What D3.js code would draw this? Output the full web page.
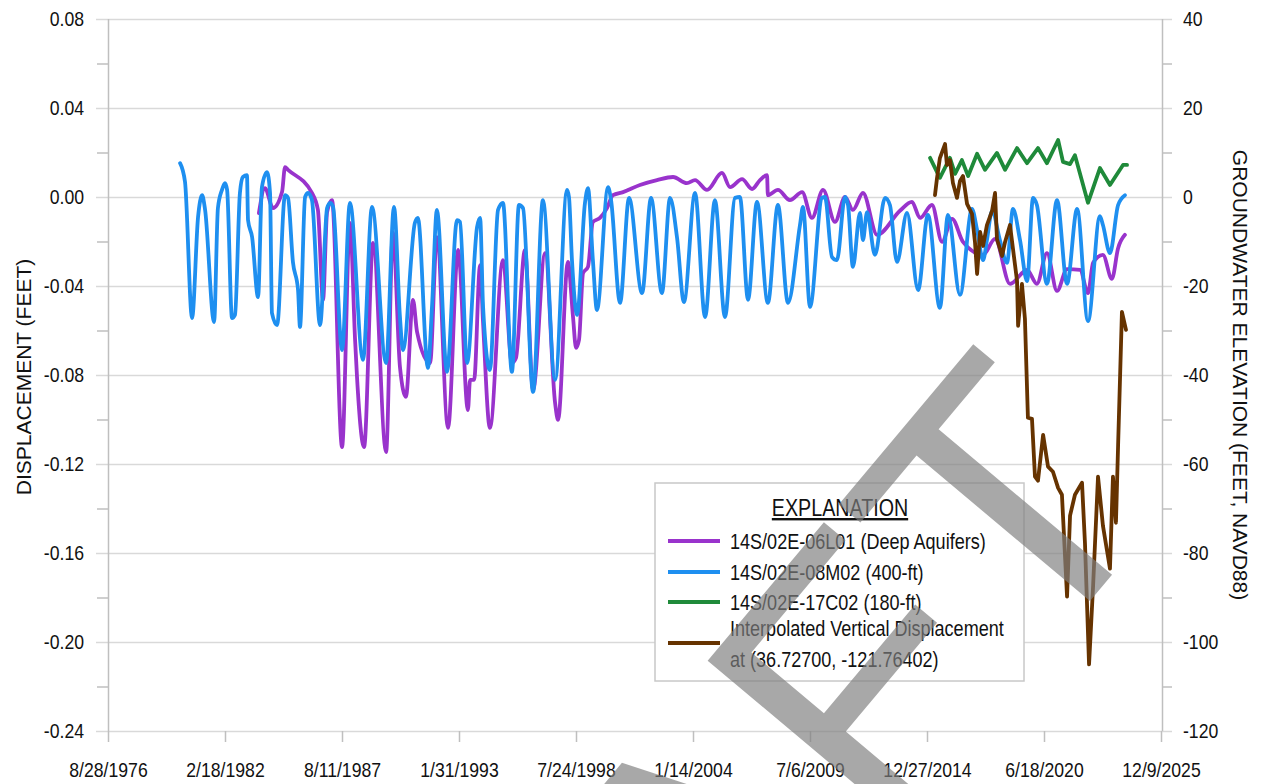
<!DOCTYPE html>
<html lang="en">
<head>
<meta charset="UTF-8">
<title>Displacement and Groundwater Elevation</title>
<script src="https://cdn.jsdelivr.net/npm/d3@7"></script>
<style>
  body { margin: 0; background: #fff; }
  svg { display: block; font-family: "Liberation Sans", Arial, sans-serif; }
</style>
</head>
<body>
<svg id="chart" width="1262" height="784"></svg>
<script>
// [decimal year, groundwater elevation (ft, NAVD88)]
const well06L01 = [
  [1983.72,-3.6],[1984.00,2.0],[1984.38,-2.5],[1984.80,1.1],[1984.94,6.7],[1985.08,6.1],[1986.20,0.9],
  [1986.48,-2.9],[1986.72,-23.1],[1986.91,-3.4],[1987.14,-0.7],[1987.61,-56.2],[1987.98,-5.8],[1988.22,-32.1],
  [1988.31,-40.4],[1988.64,-56.2],[1989.06,-10.3],[1989.67,-57.3],[1989.99,-7.9],[1990.32,-38.2],[1990.60,-44.9],
  [1990.93,-23.1],[1991.12,-30.3],[1991.73,-37.3],[1992.05,-9.0],[1992.57,-51.9],[1993.04,-11.9],[1993.50,-47.9],
  [1993.60,-41.1],[1993.79,-41.1],[1994.07,-15.3],[1994.21,-28.3],[1994.53,-51.9],[1995.14,-14.2],[1995.56,-37.3],
  [1995.75,-36.2],[1996.17,-11.9],[1996.55,-43.4],[1997.11,-12.6],[1997.58,-46.3],[1997.72,-50.1],[1998.18,-14.6],
  [1998.42,-27.0],[1998.56,-33.9],[1998.70,-32.1],[1998.89,-17.1],[1999.12,-15.7],[1999.35,-5.6],[1999.68,-4.7],
  [2000.01,-2.5],[2000.29,0.4],[2000.76,1.1],[2001.55,2.7],[2002.35,3.8],[2003.10,4.5],[2003.75,3.1],[2004.13,3.8],
  [2004.69,1.6],[2005.39,5.4],[2005.77,2.2],[2006.33,4.0],[2006.80,1.8],[2007.17,3.8],[2007.50,4.9],[2007.54,0.4],
  [2008.01,1.6],[2008.57,-0.7],[2009.14,1.1],[2009.60,-4.7],[2010.12,1.6],[2010.68,-5.6],[2011.15,0.0],[2011.52,-2.9],
  [2011.99,0.9],[2012.65,-8.5],[2013.72,-3.1],[2014.28,-1.1],[2014.66,-4.7],[2015.22,-1.8],[2015.69,-10.1],
  [2016.16,-4.9],[2016.67,-10.1],[2017.61,-13.0],[2018.17,-9.4],[2018.87,-19.5],[2019.67,-16.4],[2020.13,-19.5],
  [2020.60,-12.6],[2021.07,-21.1],[2021.54,-16.2],[2022.15,-16.4],[2022.52,-21.6],[2022.76,-14.8],[2023.22,-13.0],
  [2023.64,-18.4],[2023.93,-11.5],[2024.25,-8.5]
];

const well08M02 = [
  [1980.03,7.6],[1980.26,3.4],[1980.59,-27.2],[1980.87,-4.5],[1981.06,0.4],[1981.20,-2.9],[1981.62,-28.1],
  [1981.80,-2.5],[1981.99,1.6],[1982.13,3.1],[1982.23,1.6],[1982.46,-27.2],[1982.60,-26.5],[1982.83,0.9],
  [1982.97,4.5],[1983.16,4.9],[1983.21,-5.2],[1983.40,-9.0],[1983.68,-22.5],[1983.86,2.2],[1984.10,5.6],
  [1984.24,0.9],[1984.33,-26.1],[1984.57,-28.8],[1984.94,0.4],[1985.08,-0.2],[1985.31,-14.6],[1985.55,-20.9],
  [1985.64,-29.2],[1985.88,0.0],[1986.02,0.9],[1986.20,-0.7],[1986.58,-28.8],[1986.91,-2.5],[1987.05,-1.3],
  [1987.19,-2.2],[1987.61,-34.4],[1987.98,-1.3],[1988.59,-36.6],[1989.01,-2.2],[1989.67,-37.3],[1990.04,-2.2],
  [1990.32,-27.0],[1990.46,-34.4],[1991.02,-5.8],[1991.16,-4.7],[1991.63,-38.4],[1991.82,-24.7],[1992.05,-2.9],
  [1992.52,-39.3],[1992.99,-5.2],[1993.13,-5.6],[1993.46,-37.3],[1993.93,-6.7],[1994.07,-4.7],[1994.21,-24.7],
  [1994.53,-38.9],[1994.91,-2.9],[1995.14,-1.3],[1995.56,-39.3],[1995.89,-1.8],[1996.08,-2.5],[1996.55,-43.8],
  [1997.01,-0.7],[1997.58,-41.1],[1998.14,1.6],[1998.23,0.0],[1998.37,-14.2],[1998.61,-26.5],[1998.98,-1.3],
  [1999.12,2.0],[1999.35,-14.2],[1999.54,-25.4],[2000.06,2.2],[2000.20,-0.7],[2000.62,-23.8],[2001.04,-0.2],
  [2001.65,-21.6],[2002.07,-0.2],[2002.58,-21.6],[2002.96,-0.2],[2003.29,-9.2],[2003.61,-23.6],[2004.13,0.9],
  [2004.60,-27.0],[2005.06,-0.7],[2005.53,-27.0],[2006.00,-0.2],[2006.23,0.0],[2006.61,-23.1],[2007.03,-1.1],
  [2007.54,-23.8],[2008.01,-1.8],[2008.48,-23.8],[2009.04,-6.3],[2009.18,-2.2],[2009.51,-24.7],[2010.07,-0.2],
  [2010.21,0.0],[2010.54,-13.5],[2010.77,-14.2],[2011.15,0.0],[2011.29,-1.8],[2011.52,-15.7],[2011.85,-3.6],
  [2011.99,-9.7],[2012.18,-3.4],[2012.55,-13.0],[2013.02,-0.2],[2013.25,-1.8],[2013.58,-14.6],[2014.05,-3.6],
  [2014.57,-20.9],[2015.03,-4.0],[2015.59,-24.9],[2015.97,-4.0],[2016.53,-22.0],[2017.09,-2.7],[2017.33,-7.4],
  [2017.61,-14.2],[2017.79,-9.7],[2018.03,-3.1],[2018.40,-9.7],[2018.73,-14.8],[2019.01,-2.7],[2019.34,-9.7],
  [2019.67,-18.9],[2019.95,-0.2],[2020.13,-1.8],[2020.60,-19.5],[2021.07,-0.7],[2021.54,-19.5],[2022.01,-2.7],
  [2022.52,-27.9],[2023.08,-4.3],[2023.22,-6.3],[2023.55,-12.6],[2023.93,-1.8],[2024.25,0.4]
];

const well17C02 = [
  [2015.13,8.8],[2015.59,4.3],[2016.06,8.8],[2016.30,5.2],[2016.62,8.3],[2016.91,4.7],[2017.33,9.7],
  [2017.70,6.1],[2018.26,9.9],[2018.64,6.1],[2019.20,11.0],[2019.67,7.6],[2020.18,11.0],[2020.60,7.6],
  [2021.12,12.8],[2021.35,7.9],[2021.68,7.4],[2021.91,9.4],[2022.52,-1.3],[2023.08,6.5],[2023.55,2.7],
  [2024.16,7.2],[2024.35,7.2]
];

// [decimal year, vertical displacement (ft)]
const displacement = [
  [2015.36,0.0009],[2015.45,0.0081],[2015.59,0.0175],[2015.83,0.0238],[2015.92,0.0144],[2016.06,0.0166],
  [2016.20,0.0063],[2016.39,-0.0004],[2016.53,0.0072],[2016.67,0.0094],[2016.86,-0.0031],[2017.09,-0.0076],
  [2017.23,-0.0202],[2017.33,-0.0346],[2017.47,-0.0157],[2017.61,-0.0220],[2017.79,-0.0126],[2018.03,-0.0063],
  [2018.17,0.0018],[2018.26,-0.0189],[2018.50,-0.0265],[2018.64,-0.0202],[2018.87,-0.0126],[2019.01,-0.0233],
  [2019.20,-0.0377],[2019.25,-0.0579],[2019.43,-0.0391],[2019.57,-0.0548],[2019.71,-0.0992],[2019.90,-0.0997],
  [2020.04,-0.1257],[2020.18,-0.1275],[2020.42,-0.1069],[2020.65,-0.1212],[2020.88,-0.1235],[2021.12,-0.1307],
  [2021.30,-0.1338],[2021.54,-0.1796],[2021.68,-0.1432],[2021.91,-0.1338],[2022.24,-0.1284],[2022.38,-0.1558],
  [2022.57,-0.2101],[2022.76,-0.1747],[2022.99,-0.1257],[2023.22,-0.1477],[2023.41,-0.1589],[2023.55,-0.1670],
  [2023.69,-0.1257],[2023.83,-0.1464],[2023.93,-0.1118],[2024.11,-0.0516],[2024.30,-0.0597]
];

const leftTicks = [-0.24, -0.20, -0.16, -0.12, -0.08, -0.04, 0.00, 0.04, 0.08];
const rightTicks = [-120, -100, -80, -60, -40, -20, 0, 20, 40];
const xStart = new Date(Date.UTC(1976, 7, 28));
const xEnd = new Date(Date.UTC(2025, 11, 9));
const xTickDays = 2000;

const seriesInfo = [
  { name: "14S/02E-06L01 (Deep Aquifers)", data: well06L01, color: "#9933cc", axis: "right", smooth: true },
  { name: "14S/02E-08M02 (400-ft)", data: well08M02, color: "#1e8ff0", axis: "right", smooth: true },
  { name: "14S/02E-17C02 (180-ft)", data: well17C02, color: "#1f8a3a", axis: "right", smooth: false },
  { name: "Interpolated Vertical Displacement|at (36.72700, -121.76402)", data: displacement, color: "#663300", axis: "left", smooth: false }
];

const toDate = v => {
  const yr = Math.floor(v);
  const a = Date.UTC(yr, 0, 1), b = Date.UTC(yr + 1, 0, 1);
  return new Date(a + (v - yr) * (b - a));
};

// the source figure is horizontally compressed: squeeze horizontal text to match
const squeeze = (sel, k) => sel.each(function () {
  const len = this.getComputedTextLength();
  d3.select(this).attr("textLength", len * k).attr("lengthAdjust", "spacingAndGlyphs");
});

const svg = d3.select("#chart");
const plotLeft = 108, plotRight = 1162, plotTop = 19, plotBottom = 731;

const x = d3.scaleUtc().domain([xStart, xEnd]).range([plotLeft, plotRight - 1]);
const yLeft = d3.scaleLinear().domain([-0.24, 0.08]).range([plotBottom, plotTop]);
const yRight = d3.scaleLinear().domain([-120, 40]).range([plotBottom, plotTop]);

const gridColor = "#d9d9d9", axisColor = "#bfbfbf";

// horizontal gridlines (extend over the tick marks on both sides)
svg.append("g").selectAll("line")
  .data(leftTicks)
  .join("line")
  .attr("x1", plotLeft - 12).attr("x2", plotRight + 10)
  .attr("y1", d => Math.round(yLeft(d)) + 0.5).attr("y2", d => Math.round(yLeft(d)) + 0.5)
  .attr("stroke", gridColor).attr("stroke-width", 1.5);

// left axis
const minorLeft = leftTicks.slice(0, -1).map(d => d + 0.02);
const gLeft = svg.append("g").attr("transform", `translate(${plotLeft},0)`);
gLeft.call(d3.axisLeft(yLeft).tickValues(leftTicks).tickSize(0).tickPadding(24)
  .tickFormat(d => d.toFixed(2)));
gLeft.append("g").call(d3.axisLeft(yLeft).tickValues(minorLeft).tickSize(11).tickFormat(""));

// right axis
const minorRight = rightTicks.slice(0, -1).map(d => d + 10);
const gRight = svg.append("g").attr("transform", `translate(${plotRight},0)`);
gRight.call(d3.axisRight(yRight).tickValues(rightTicks).tickSize(0).tickPadding(21)
  .tickFormat(d => String(d)));
gRight.append("g").call(d3.axisRight(yRight).tickValues(minorRight).tickSize(10).tickFormat(""));

// bottom axis
const xTicks = d3.range(0, 10).map(i => new Date(xStart.getTime() + i * xTickDays * 864e5));
const gBottom = svg.append("g").attr("transform", `translate(0,${plotBottom})`);
gBottom.call(d3.axisBottom(x).tickValues(xTicks).tickSize(11).tickPadding(20)
  .tickFormat(d => `${d.getUTCMonth() + 1}/${d.getUTCDate()}/${d.getUTCFullYear()}`));

[gLeft, gRight, gBottom].forEach(g => {
  g.selectAll(".domain").remove();
  g.selectAll("line").attr("stroke", axisColor).attr("stroke-width", 1.5);
  g.selectAll("text").attr("fill", "#111").style("font-size", "21px")
    .style("font-family", "'Liberation Sans', Arial, sans-serif")
    .call(squeeze, 0.84);
});

svg.append("line").attr("x1", plotLeft + 0.5).attr("x2", plotLeft + 0.5)
  .attr("y1", plotTop).attr("y2", plotBottom).attr("stroke", axisColor).attr("stroke-width", 1.5);
svg.append("line").attr("x1", plotRight + 0.5).attr("x2", plotRight + 0.5)
  .attr("y1", plotTop).attr("y2", plotBottom).attr("stroke", axisColor).attr("stroke-width", 1.5);

// axis titles
svg.append("text")
  .attr("transform", `translate(31,377) rotate(-90)`)
  .attr("text-anchor", "middle")
  .style("font-size", "21px").attr("fill", "#111")
  .text("DISPLACEMENT (FEET)");
svg.append("text")
  .attr("transform", `translate(1233,375) rotate(90)`)
  .attr("text-anchor", "middle")
  .style("font-size", "21px").attr("fill", "#111")
  .text("GROUNDWATER ELEVATION (FEET, NAVD88)");

// series
const lines = svg.append("g").attr("fill", "none")
  .attr("stroke-width", 3.8).attr("stroke-linejoin", "round").attr("stroke-linecap", "round");
seriesInfo.forEach(s => {
  const yS = s.axis === "left" ? yLeft : yRight;
  const line = d3.line().x(d => x(toDate(d[0]))).y(d => yS(d[1]))
    .curve(s.smooth ? d3.curveMonotoneX : d3.curveLinear);
  lines.append("path").datum(s.data).attr("d", line).attr("stroke", s.color);
});

// legend
const legend = svg.append("g").attr("transform", "translate(655,483)");
legend.append("rect").attr("width", 369).attr("height", 198)
  .attr("fill", "#fff").attr("stroke", "#c8c8c8").attr("stroke-width", 1.5);
legend.append("text").attr("x", 185).attr("y", 33)
  .attr("text-anchor", "middle").style("font-size", "24px")
  .style("text-decoration", "underline").attr("fill", "#111")
  .text("EXPLANATION")
  .call(squeeze, 0.82);
const rowY = [58, 89, 119, 160];
seriesInfo.forEach((s, i) => {
  legend.append("line").attr("x1", 13).attr("x2", 65)
    .attr("y1", rowY[i]).attr("y2", rowY[i])
    .attr("stroke", s.color).attr("stroke-width", 3.8);
  const parts = s.name.split("|");
  parts.forEach((p, j) => {
    legend.append("text").attr("x", 75)
      .attr("y", rowY[i] + 8 + (parts.length > 1 ? (j - 0.5) * 31 : 0))
      .style("font-size", "22px").attr("fill", "#111").text(p)
      .call(squeeze, 0.82);
  });
});

// DRAFT watermark, mostly falling outside the frame
svg.append("text")
  .attr("transform", "translate(381,1446) rotate(-50)")
  .style("font-size", "370px")
  .attr("fill", "#7f7f7f").attr("fill-opacity", 0.68)
  .text("DRAFT");
</script>
</body>
</html>
